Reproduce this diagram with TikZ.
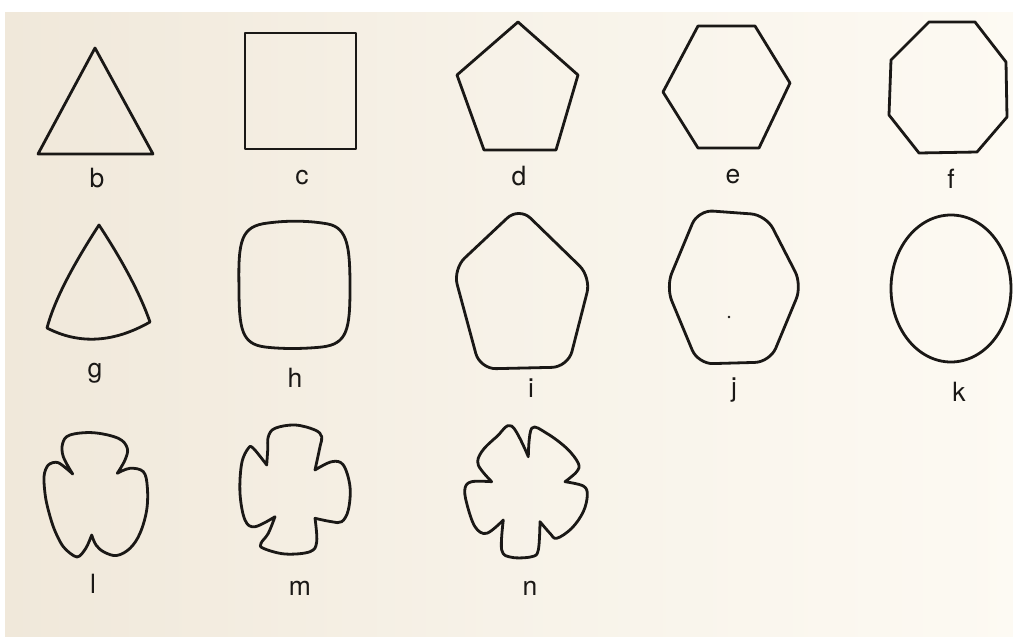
\documentclass[tikz,border=0pt]{standalone}
\usepackage{fontspec}
\setmainfont{TeX Gyre Heros}
\definecolor{ink}{HTML}{1A1816}
\definecolor{paperL}{HTML}{F0E8DA}
\definecolor{paperM}{HTML}{F7F2E8}
\definecolor{paperR}{HTML}{FDFAF3}
\begin{document}
\begin{tikzpicture}[x=1pt,y=-1pt,
  shp/.style={draw=ink,line width=2.8pt,line join=round,line cap=round},
  lbl/.style={anchor=base,inner sep=0pt,text=ink,font=\fontsize{26.5}{30}\selectfont}]
\useasboundingbox (0,0) rectangle (1013,637);
\fill[white] (-5,-5) rectangle (1020,645);
\fill[paperM] (5,12) rectangle (1020,645);
\shade[left color=paperL,right color=paperM] (5,12) rectangle (500,645);
\shade[left color=paperM,right color=paperR] (499.5,12) rectangle (1020,645);

% ---- row 1 ----
\draw[shp] (95,48) -- (153,154) -- (38,154) -- cycle;
\draw[shp] (245,33) rectangle (356,149);
\draw[shp] (518,22) -- (578,75) -- (556,150) -- (484,150) -- (457,75) -- cycle;
\draw[shp] (698,26) -- (755,26) -- (790,83) -- (759,148) -- (698,148) -- (663,92) -- cycle;
\draw[shp] (929,22) -- (975,22) -- (1006,62) -- (1007,117) -- (977,152) -- (919,153) -- (889,115) -- (891,60) -- cycle;

\node[lbl] (lb) at (97,187) {b};
\node[lbl] (lc) at (302,184) {c};
\node[lbl] (ld) at (519,185) {d};
\node[lbl] (le) at (733,183) {e};
\node[lbl] (lf) at (951,188) {f};

% ---- row 2 ----
\draw[shp] (99,225) .. controls (71,268) and (53.7,302.3) .. (47,328)
  .. controls (79.3,344.7) and (113.7,342.7) .. (150,322)
  .. controls (140.3,294.3) and (123.3,262) .. cycle;
\draw[shp] (239,288) .. controls (238,240) and (241,226) .. (268,223)
  .. controls (290,220) and (312,221) .. (328,224)
  .. controls (348,228) and (350,248) .. (350,288)
  .. controls (350,330) and (347,344) .. (322,347)
  .. controls (302,349) and (282,349) .. (265,347)
  .. controls (242,344) and (239,330) .. cycle;
\draw[shp,rounded corners=16pt] (519,207) -- (591,277) -- (568,367) -- (480,369) -- (453,269) -- cycle;
\draw[shp,rounded corners=15pt] (698,210) -- (766,215) -- (802,285) -- (770,362) -- (698,364) -- (666,287) -- cycle;
\fill[ink] (729,317) circle (1.3pt);
\draw[shp] (951,288.5) ellipse [x radius=60, y radius=73.5];

\node[lbl] (lg) at (95,377) {g};
\node[lbl] (lh) at (295,387) {h};
\node[lbl] (li) at (531,397) {i};
\node[lbl] (lj) at (734,396) {j};
\node[lbl] (lk) at (959,401) {k};

% ---- row 3 ----
% l
\draw[shp]
  (72.7,474) -- plot[smooth,tension=0.6] coordinates {(72.7,474) (63.3,456.7) (62.7,443.3) (70,435) (93.3,432.7) (118.3,438.3) (127.3,448.3) (125,460) (117.3,473.3)}
  -- plot[smooth,tension=0.6] coordinates {(117.3,473.3) (130,468.3) (143.3,471.7) (147.3,486.7) (146.7,510) (140,533.3) (130,548.3) (116.7,555.5) (104,552) (96,545) (91.7,535)}
  -- plot[smooth,tension=0.5] coordinates {(91.7,535) (86,548) (77,557) (63.3,546.7) (53.3,526.7) (46,500) (44,476.7) (48.3,465) (58.3,462.7) (72.7,474)}
  -- cycle;
% m
\draw[shp]
  (266.7,465) -- plot[smooth,tension=0.6] coordinates {(266.7,465) (267.7,450) (268.3,436.7) (275,428.3) (295,425) (315,430) (321.7,436.7) (320,446.7) (315,470)}
  -- plot[smooth,tension=0.6] coordinates {(315,470) (331.7,461.7) (343.3,465) (350,486.7) (348.3,510) (341.7,521.7) (331.7,521.7) (315,518.3)}
  -- plot[smooth,tension=0.6] coordinates {(315,518.3) (316.7,541.7) (310,551.7) (285,554) (263.3,548.3) (261,543.3) (268.3,533.3) (275,516.7)}
  -- plot[smooth,tension=0.6] coordinates {(275,516.7) (255,526.7) (245,520) (240,493.3) (241.7,463.3) (248.3,448.3) (253.3,448.3) (266.7,465)}
  -- cycle;
% n
\draw[shp]
  (528.3,456.7) -- plot[smooth,tension=0.6] coordinates {(528.3,456.7) (531.7,428.3) (546.7,433.3) (566.7,448.3) (578.3,463.3) (576.7,471.7) (565,481.7)}
  -- plot[smooth,tension=0.6] coordinates {(565,481.7) (583.3,486) (587.3,495) (583.3,511.7) (571.7,528.3) (556.7,538.3) (550,533.3) (540,521.7)}
  -- plot[smooth,tension=0.6] coordinates {(540,521.7) (538.3,550) (531.7,556.7) (511.7,557.3) (501.7,550) (503.3,520)}
  -- plot[smooth,tension=0.6] coordinates {(503.3,520) (486.7,533.3) (475,526.7) (466.7,503.3) (465,488.3) (471.7,481.7) (491.7,481.7)}
  -- plot[smooth,tension=0.6] coordinates {(491.7,481.7) (478.3,465) (481.7,451.7) (496.7,436.7) (511.7,426) (528.3,456.7)}
  -- cycle;

\node[lbl] (ll) at (93,593) {l};
\node[lbl] (lm) at (300,595) {m};
\node[lbl] (ln) at (530,595) {n};
\end{tikzpicture}
\end{document}
